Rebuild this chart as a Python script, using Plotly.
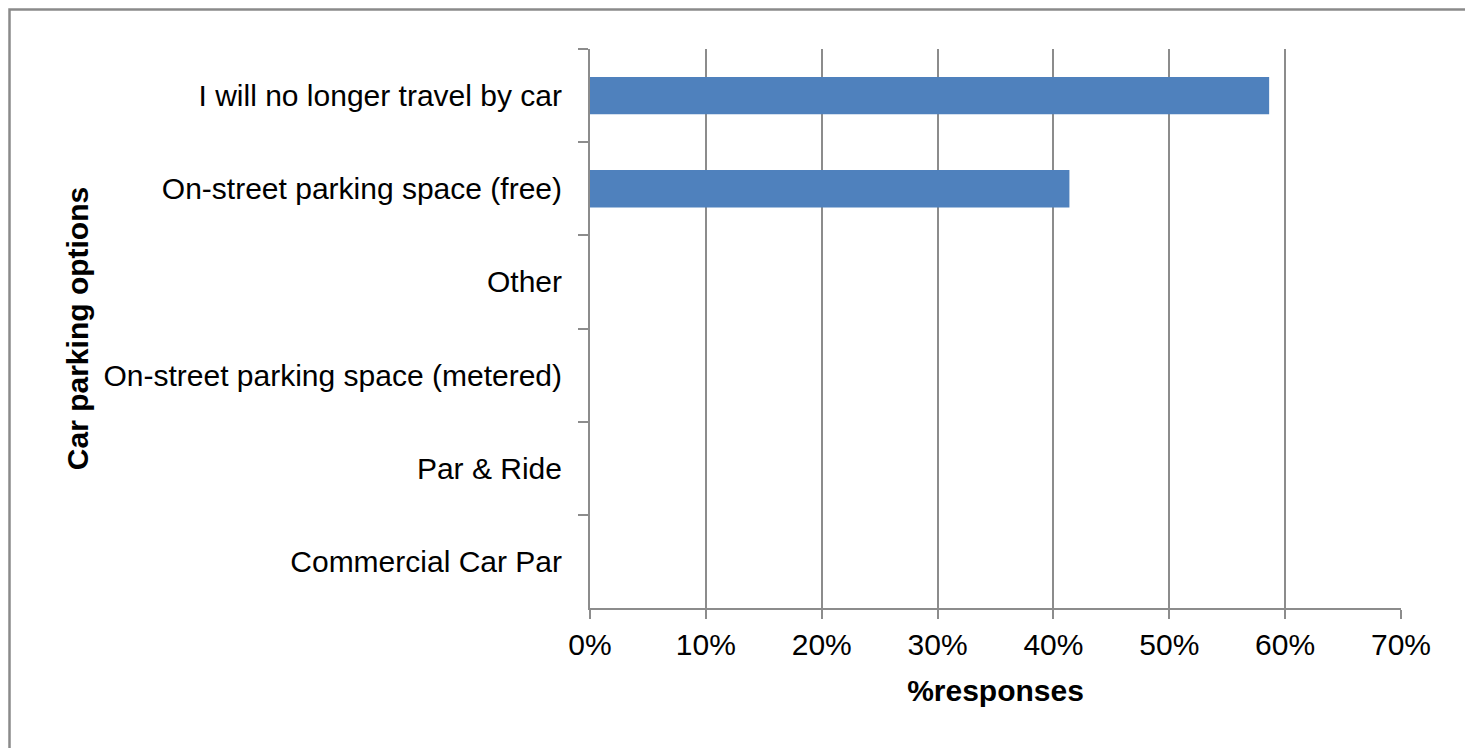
import plotly.graph_objects as go

categories = [
    "I will no longer travel by car",
    "On-street parking space (free)",
    "Other",
    "On-street parking space (metered)",
    "Par & Ride",
    "Commercial Car Par",
]
responses = [0.5862, 0.4138, 0.0, 0.0, 0.0, 0.0]
x_tickvals = [0, 0.1, 0.2, 0.3, 0.4, 0.5, 0.6, 0.7]

W, H = 1465, 748
L, R, T, B = 590, 64, 49, 140
FONT = "Liberation Sans, Arial, sans-serif"
GRID = "#8c8c8c"

fig = go.Figure(
    go.Bar(
        x=responses,
        y=categories,
        orientation="h",
        marker=dict(color="#4F81BD", line=dict(width=0)),
        hoverinfo="x+y",
    )
)

pw = W - L - R
ph = H - T - B

fig.update_layout(
    width=W,
    height=H,
    autosize=False,
    margin=dict(l=L, r=R, t=T, b=B, pad=0),
    paper_bgcolor="white",
    plot_bgcolor="white",
    bargap=0.6,
    showlegend=False,
    font=dict(family=FONT, size=30, color="black"),
    xaxis=dict(
        range=[0, 0.7],
        tickvals=x_tickvals,
        tickformat=".0%",
        showgrid=True,
        gridcolor=GRID,
        gridwidth=2,
        zeroline=False,
        showline=True,
        linecolor=GRID,
        linewidth=2,
        ticks="outside",
        ticklen=9,
        tickwidth=2,
        tickcolor=GRID,
        ticklabelstandoff=0,
        title=dict(text="<b>%responses</b>", font=dict(size=30), standoff=20),
        fixedrange=True,
    ),
    yaxis=dict(
        categoryorder="array",
        categoryarray=categories,
        autorange="reversed",
        showgrid=False,
        zeroline=False,
        showline=True,
        linecolor=GRID,
        linewidth=2,
        ticks="outside",
        tickson="boundaries",
        ticklen=10,
        tickwidth=2,
        tickcolor=GRID,
        ticklabelstandoff=20,
        title=dict(text="<b>Car parking options</b>", font=dict(size=30), standoff=6),
        fixedrange=True,
    ),
    shapes=[
        dict(
            type="rect",
            xref="paper",
            yref="paper",
            x0=(9.5 - L) / pw,
            x1=(W + 30 - L) / pw,
            y0=-(H + 30 - T - ph) / ph,
            y1=1 + (T - 9.5) / ph,
            line=dict(color="#8a8a8a", width=2.5),
            layer="below",
        )
    ],
)

fig.write_html(
    "out.html",
    config={"displayModeBar": False},
    post_script=(
        "document.body.style.margin='0px';"
        "document.documentElement.style.overflow='hidden';"
        "document.body.style.overflow='hidden';"
    ),
)
